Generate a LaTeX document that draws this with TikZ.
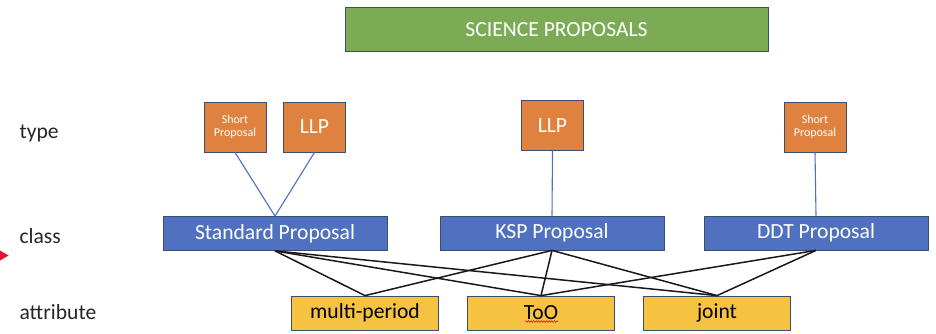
\documentclass[tikz,border=0pt]{standalone}
\usepackage{fontspec}
\setmainfont{Carlito}
\usetikzlibrary{decorations.pathmorphing}
\definecolor{titleFill}{HTML}{7DAB55}
\definecolor{typeFill}{HTML}{E0823F}
\definecolor{classFill}{HTML}{4F71C0}
\definecolor{attrFill}{HTML}{F5C242}
\definecolor{boxStroke}{HTML}{3A4E6E}
\definecolor{tieStroke}{HTML}{4A72C4}
\definecolor{markRed}{HTML}{E2123C}
\begin{document}
\begin{tikzpicture}[
  x=1pt,y=-1pt,
  font=\fontsize{21.6}{26}\selectfont,
  box/.style={rectangle,draw=boxStroke,line width=.8pt,inner sep=0pt,align=center},
  titlebox/.style={box,fill=titleFill,text=white,minimum width=423pt,minimum height=44pt},
  typebox/.style={box,fill=typeFill,text=white,minimum width=62pt,minimum height=50pt},
  smalltext/.style={font=\fontsize{12}{13.5}\selectfont},
  classbox/.style={box,fill=classFill,text=white,minimum width=224pt,minimum height=34pt},
  attrbox/.style={box,fill=attrFill,text=black,minimum width=147pt,minimum height=34pt},
  tie/.style={line width=1.1pt,draw=tieStroke},
  link/.style={line width=1.5pt,draw=black!90},
  label/.style={anchor=west,text=black!85}
]
\useasboundingbox (0,0) rectangle (936,334);
% top banner and row labels
\node[titlebox] (science) at (556.5,29.5) {SCIENCE PROPOSALS};
\node[label] (typelbl) at (16,133) {type};
\node[label] (classlbl) at (16,236) {class};
\node[label] (attrlbl) at (16,312) {attribute};
% type row
\node[typebox,smalltext] (shortA) at (235,127) {Short\\Proposal};
\node[typebox] (llpA) at (314.5,127) {LLP};
\node[typebox] (llpB) at (552.5,125.5) {LLP};
\node[typebox,smalltext] (shortB) at (815,127) {Short\\Proposal};
% class row
\node[classbox] (standard) at (275,233.5) {Standard Proposal};
\node[classbox] (ksp) at (552,233) {KSP Proposal};
\node[classbox] (ddt) at (816,233) {DDT Proposal};
% attribute row
\node[attrbox] (multi) at (365,313) {multi-period};
\node[attrbox] (too) at (541,313) {ToO};
\node[attrbox] (joint) at (717,313) {joint};

\draw[tie] (shortA.south) -- (standard.north);
\draw[tie] (llpA.south) -- (standard.north);
\draw[tie] (llpB.south) -- (ksp.north);
\draw[tie] (shortB.south) -- (ddt.north);

\draw[link] (standard.south) -- (multi.north);
\draw[link] (standard.south) -- (too.north);
\draw[link] (standard.south) -- (joint.north);
\draw[link] (ksp.south) -- (multi.north);
\draw[link] (ksp.south) -- (too.north);
\draw[link] (ksp.south) -- (joint.north);
\draw[link] (ddt.south) -- (too.north);
\draw[link] (ddt.south) -- (joint.north);

% leftovers from the slide: arrow tip at the edge, spelling squiggle
\coordinate (tipA) at (0,250.5);
\coordinate (tipB) at (8.5,255.5);
\coordinate (tipC) at (0,260.5);
\fill[markRed] (tipA) -- (tipB) -- (tipC) -- cycle;
\coordinate (wavyA) at (525,321.5);
\coordinate (wavyB) at (558,321.5);
\draw[markRed,line width=.6pt,decorate,decoration={snake,amplitude=.8pt,segment length=2.6pt}] (wavyA) -- (wavyB);
\end{tikzpicture}
\end{document}
